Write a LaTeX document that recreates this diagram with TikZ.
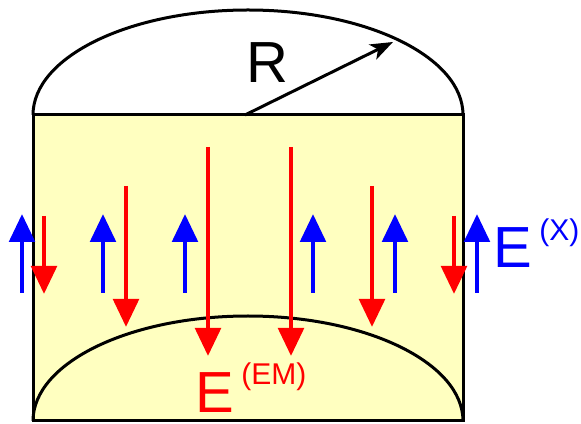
\documentclass[tikz,border=0pt]{standalone}
\usepackage{fontspec}
\setmainfont{Liberation Sans}
\usetikzlibrary{arrows.meta}
\definecolor{ink}{HTML}{000000}
\definecolor{emC}{HTML}{FF0000}
\definecolor{xC}{HTML}{0000FF}
\definecolor{slabFill}{HTML}{FFFFC0}
\tikzset{
  wall/.style={draw=ink,line width=2.25pt},
  fieldarr/.style={line width=3.4pt,-{Triangle[length=21pt,width=19pt]}},
  radarr/.style={ink,line width=2.25pt,-{Stealth[length=17pt,width=12.5pt,inset=4.5pt]}},
  biglab/.style={font=\fontsize{43.5}{50}\selectfont,inner sep=0pt,anchor=base west},
  suplab/.style={font=\fontsize{22.5}{26}\selectfont,inner sep=0pt,anchor=base west},
}
\newcommand{\fieldup}[1]{%
  \draw[fieldarr,xC] (#1,131) -- (#1,210);
}
\newcommand{\fielddown}[3]{%
  \draw[fieldarr,emC] (#1,#2) -- (#1,#3);
}
\begin{document}
\begin{tikzpicture}[x=0.75pt,y=0.75pt]
\useasboundingbox (0,0) rectangle (581,424);

% ================= VESSEL =================
\fill[slabFill] (33,3) rectangle (463,309);
\draw[wall] (33,3) arc[start angle=180,end angle=0,x radius=215,y radius=105];
\draw[wall] (33,309) arc[start angle=180,end angle=0,x radius=215,y radius=105];
\draw[wall] (33,3) rectangle (463,309);

% ================= RADIUS =================
\coordinate (ctr) at (245,309);
\coordinate (rim) at (393,382);
\draw[radarr] (ctr) -- (rim);
\node[biglab,text=ink] (Rlab) at (246,341) {R};

% ================= FIELDS =================
\fieldup{22} \fieldup{103} \fieldup{185}
\fieldup{313} \fieldup{395} \fieldup{477}
\fielddown{44}{208}{130} \fielddown{454}{208}{130}
\fielddown{126}{238}{97} \fielddown{372}{238}{97}
\fielddown{208}{277}{68} \fielddown{291}{277}{68}

% ================= LABELS =================
\node[biglab,text=emC] (Eem) at (195,11) {E};
\node[suplab,text=emC] (Eemsup) at (241,39) {(EM)};
\node[biglab,text=xC] (Ex) at (493,156) {E};
\node[suplab,text=xC] (Exsup) at (539,183) {(X)};

\end{tikzpicture}
\end{document}
